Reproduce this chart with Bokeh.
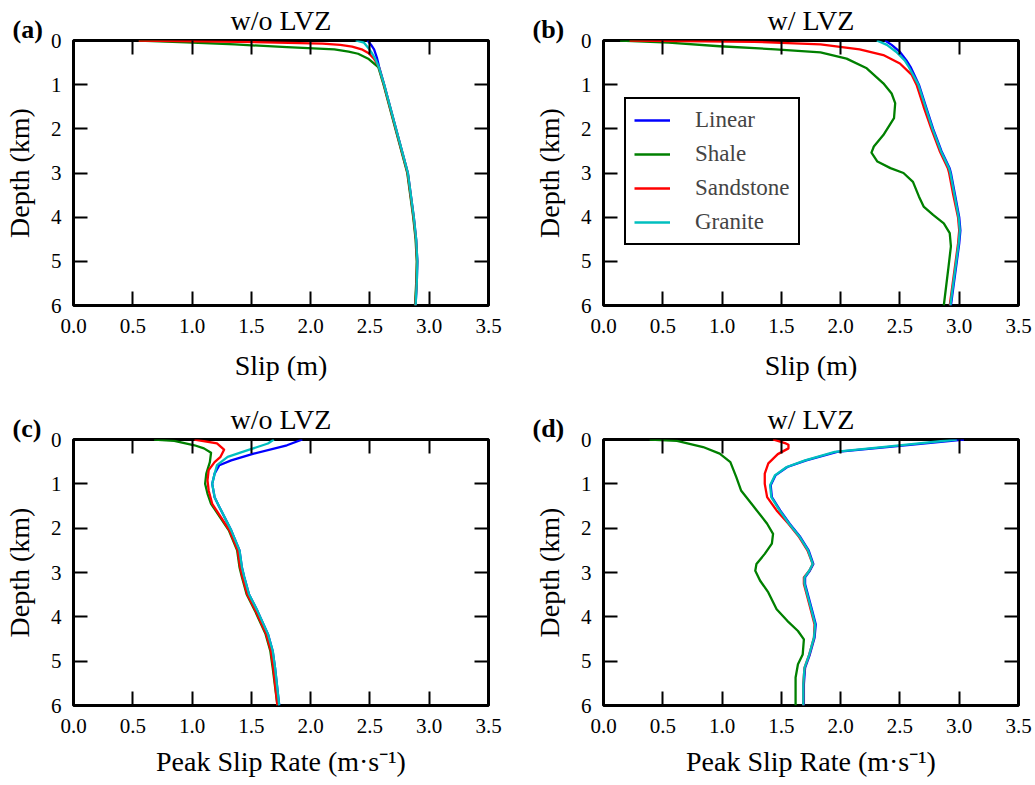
from bokeh.plotting import figure
from bokeh.layouts import gridplot
from bokeh.models import FixedTicker, PrintfTickFormatter, LinearAxis, Range1d, Title
from bokeh.embed import file_html
from bokeh.resources import INLINE

# ---------------- data ----------------
SERIES = ["Linear", "Shale", "Sandstone", "Granite"]
COLORS = ["#0000ff", "#008000", "#ff0000", "#00bfbf"]
X_TICKS = [0.0, 0.5, 1.0, 1.5, 2.0, 2.5, 3.0, 3.5]
Y_TICKS = [0, 1, 2, 3, 4, 5, 6]
TITLES = ["w/o LVZ", "w/ LVZ", "w/o LVZ", "w/ LVZ"]
TAGS = ["(a)", "(b)", "(c)", "(d)"]
XLABELS = ["Slip (m)", "Slip (m)", "Peak Slip Rate (m\u00b7s\u207b\u00b9)", "Peak Slip Rate (m\u00b7s\u207b\u00b9)"]
YLABEL = "Depth (km)"

# (a) slip, without LVZ
A_LIN_D = [0, 0.1, 0.2, 0.4, 0.6, 1.0, 2.0, 2.8, 3.0, 4.0, 4.5, 5.0, 5.5, 6.0]
A_LIN_V = [2.48, 2.51, 2.535, 2.56, 2.578, 2.62, 2.72, 2.80, 2.82, 2.87, 2.89, 2.90, 2.895, 2.885]
A_SHA_D = [0, 0.04, 0.09, 0.15, 0.2, 0.25, 0.3, 0.42, 0.6, 1.0, 2.0, 2.8, 3.0, 4.0, 4.5, 5.0, 5.5, 6.0]
A_SHA_V = [0.55, 0.95, 1.36, 1.8, 2.2, 2.32, 2.4, 2.49, 2.57, 2.615, 2.715, 2.795, 2.815, 2.865, 2.885, 2.895, 2.89, 2.88]
A_SAN_D = [0, 0.03, 0.07, 0.1, 0.14, 0.2, 0.29, 0.4, 0.48, 0.6, 1.0, 2.0, 2.8, 3.0, 4.0, 4.5, 5.0, 5.5, 6.0]
A_SAN_V = [0.55, 1.4, 2.1, 2.25, 2.35, 2.43, 2.49, 2.53, 2.55, 2.575, 2.618, 2.718, 2.798, 2.818, 2.868, 2.888, 2.898, 2.893, 2.883]
A_GRA_D = [0, 0.05, 0.18, 0.3, 0.44, 0.6, 1.0, 2.0, 2.8, 3.0, 4.0, 4.5, 5.0, 5.5, 6.0]
A_GRA_V = [2.38, 2.45, 2.49, 2.52, 2.55, 2.575, 2.62, 2.72, 2.80, 2.82, 2.87, 2.89, 2.90, 2.895, 2.885]

# (b) slip, with LVZ
B_LIN_D = [0, 0.1, 0.26, 0.45, 0.6, 1.0, 1.5, 2.0, 2.5, 2.9, 3.0, 3.5, 4.0, 4.3, 4.6, 5.0, 5.5, 6.0]
B_LIN_V = [2.375, 2.43, 2.50, 2.555, 2.59, 2.66, 2.72, 2.78, 2.85, 2.92, 2.93, 2.965, 3.0, 3.01, 3.0, 2.98, 2.955, 2.93]
B_SHA_D = [0, 0.05, 0.13, 0.2, 0.27, 0.41, 0.63, 0.97, 1.2, 1.42, 1.76, 2.14, 2.4, 2.54, 2.74, 2.89, 3.0, 3.2, 3.53, 3.76, 3.95, 4.14, 4.36, 4.66, 5.12, 6.0]
B_SHA_V = [0.14, 0.55, 0.98, 1.45, 1.83, 2.05, 2.22, 2.36, 2.43, 2.46, 2.45, 2.36, 2.28, 2.26, 2.31, 2.42, 2.53, 2.61, 2.66, 2.70, 2.78, 2.87, 2.92, 2.93, 2.91, 2.87]
B_SAN_D = [0, 0.03, 0.09, 0.2, 0.33, 0.52, 0.78, 1.0, 1.5, 2.0, 2.5, 2.9, 3.0, 3.5, 4.0, 4.3, 4.6, 5.0, 5.5, 6.0]
B_SAN_V = [0.22, 1.27, 1.83, 2.16, 2.36, 2.50, 2.60, 2.64, 2.70, 2.765, 2.835, 2.905, 2.915, 2.95, 2.99, 3.0, 2.99, 2.97, 2.945, 2.92]
B_GRA_D = [0, 0.1, 0.26, 0.45, 0.6, 1.0, 1.5, 2.0, 2.5, 2.9, 3.0, 3.5, 4.0, 4.3, 4.6, 5.0, 5.5, 6.0]
B_GRA_V = [2.305, 2.39, 2.47, 2.54, 2.575, 2.655, 2.715, 2.775, 2.845, 2.915, 2.925, 2.96, 2.995, 3.005, 2.995, 2.975, 2.95, 2.925]

# (c) peak slip rate, without LVZ
C_LIN_D = [0, 0.13, 0.32, 0.47, 0.58, 0.77, 1.0, 1.3, 1.52, 2.05, 2.5, 2.88, 3.1, 3.49, 3.86, 4.39, 4.77, 5.15, 6.0]
C_LIN_V = [1.93, 1.80, 1.52, 1.33, 1.23, 1.19, 1.17, 1.19, 1.23, 1.33, 1.40, 1.42, 1.44, 1.48, 1.55, 1.64, 1.68, 1.70, 1.735]
C_SHA_D = [0, 0.03, 0.13, 0.2, 0.3, 0.51, 0.77, 1.0, 1.22, 1.45, 2.05, 2.5, 2.88, 3.1, 3.49, 3.86, 4.39, 4.77, 5.15, 6.0]
C_SHA_V = [0.68, 0.85, 1.02, 1.10, 1.16, 1.15, 1.12, 1.11, 1.13, 1.16, 1.31, 1.38, 1.40, 1.42, 1.46, 1.53, 1.62, 1.66, 1.68, 1.72]
C_SAN_D = [0, 0.09, 0.23, 0.39, 0.51, 0.69, 0.92, 1.15, 1.45, 2.05, 2.5, 2.88, 3.1, 3.49, 3.86, 4.39, 4.77, 5.15, 6.0]
C_SAN_V = [1.02, 1.21, 1.27, 1.24, 1.19, 1.14, 1.13, 1.14, 1.17, 1.315, 1.385, 1.405, 1.425, 1.465, 1.535, 1.625, 1.665, 1.685, 1.72]
C_GRA_D = [0, 0.09, 0.24, 0.39, 0.58, 0.77, 1.0, 1.3, 1.52, 2.05, 2.5, 2.88, 3.1, 3.49, 3.86, 4.39, 4.77, 5.15, 6.0]
C_GRA_V = [1.69, 1.64, 1.47, 1.30, 1.21, 1.19, 1.17, 1.19, 1.23, 1.33, 1.40, 1.42, 1.44, 1.48, 1.55, 1.64, 1.68, 1.70, 1.735]

# (d) peak slip rate, with LVZ
D_LIN_D = [0, 0.17, 0.28, 0.47, 0.62, 0.81, 1.03, 1.3, 1.6, 1.9, 2.2, 2.5, 2.81, 2.96, 3.11, 3.26, 3.56, 3.86, 4.17, 4.47, 4.85, 5.15, 5.52, 6.0]
D_LIN_V = [3.04, 2.39, 1.97, 1.71, 1.55, 1.45, 1.41, 1.42, 1.49, 1.57, 1.66, 1.73, 1.77, 1.74, 1.70, 1.70, 1.73, 1.76, 1.79, 1.78, 1.74, 1.70, 1.69, 1.69]
D_SHA_D = [0, 0.03, 0.17, 0.32, 0.51, 0.85, 1.15, 1.49, 1.9, 2.13, 2.35, 2.58, 2.81, 2.96, 3.18, 3.45, 3.83, 4.09, 4.32, 4.51, 4.85, 5.07, 5.37, 6.0]
D_SHA_V = [0.39, 0.62, 0.84, 0.98, 1.07, 1.12, 1.16, 1.26, 1.38, 1.43, 1.42, 1.36, 1.29, 1.28, 1.32, 1.39, 1.46, 1.55, 1.64, 1.69, 1.68, 1.64, 1.62, 1.62]
D_SAN_D = [0, 0.08, 0.12, 0.2, 0.33, 0.54, 0.77, 1.0, 1.3, 1.6, 1.9, 2.2, 2.5, 2.81, 2.96, 3.11, 3.26, 3.56, 3.86, 4.17, 4.47, 4.85, 5.15, 5.52, 6.0]
D_SAN_V = [1.43, 1.53, 1.56, 1.56, 1.47, 1.39, 1.36, 1.36, 1.38, 1.46, 1.56, 1.65, 1.72, 1.765, 1.735, 1.69, 1.69, 1.72, 1.75, 1.78, 1.775, 1.735, 1.695, 1.685, 1.685]
D_GRA_D = [0, 0.17, 0.28, 0.47, 0.62, 0.81, 1.03, 1.3, 1.6, 1.9, 2.2, 2.5, 2.81, 2.96, 3.11, 3.26, 3.56, 3.86, 4.17, 4.47, 4.85, 5.15, 5.52, 6.0]
D_GRA_V = [2.98, 2.35, 1.95, 1.70, 1.545, 1.445, 1.405, 1.415, 1.485, 1.565, 1.655, 1.725, 1.765, 1.735, 1.695, 1.695, 1.725, 1.755, 1.785, 1.775, 1.735, 1.695, 1.685, 1.685]

PANELS = [
    [(A_LIN_V, A_LIN_D), (A_SHA_V, A_SHA_D), (A_SAN_V, A_SAN_D), (A_GRA_V, A_GRA_D)],
    [(B_LIN_V, B_LIN_D), (B_SHA_V, B_SHA_D), (B_SAN_V, B_SAN_D), (B_GRA_V, B_GRA_D)],
    [(C_LIN_V, C_LIN_D), (C_SHA_V, C_SHA_D), (C_SAN_V, C_SAN_D), (C_GRA_V, C_GRA_D)],
    [(D_LIN_V, D_LIN_D), (D_SHA_V, D_SHA_D), (D_SAN_V, D_SAN_D), (D_GRA_V, D_GRA_D)],
]

FONT = "Liberation Serif"

# layout: (width, height, left, right, top, bottom)
GEOM = [
    (515, 390, 73, 27, 40, 85),
    (518, 390, 88, 15, 40, 85),
    (515, 394, 73, 27, 49, 79),
    (518, 394, 88, 15, 49, 79),
]


def style_axis(ax, ticks, fmt, show_labels):
    ax.ticker = FixedTicker(ticks=ticks)
    ax.formatter = PrintfTickFormatter(format=fmt)
    ax.axis_line_color = None
    ax.major_tick_in = 14
    ax.major_tick_out = 0
    ax.major_tick_line_color = "black"
    ax.major_tick_line_width = 2
    ax.minor_tick_line_color = None
    if show_labels:
        ax.major_label_text_font = FONT
        ax.major_label_text_font_size = "21px"
        ax.major_label_text_color = "black"
    else:
        ax.major_label_text_font_size = "1px"
        ax.major_label_text_color = None
        ax.major_label_standoff = 0


figs = []
for i in range(4):
    w, h, bl, br, bt, bb = GEOM[i]
    p = figure(width=w, height=h, x_range=Range1d(0, 3.5), y_range=Range1d(6, 0),
               output_backend="svg", toolbar_location=None,
               min_border_left=bl, min_border_right=br,
               min_border_top=bt, min_border_bottom=bb)
    p.grid.visible = False
    p.outline_line_color = "black"
    p.outline_line_width = 3
    p.outline_line_alpha = 1
    p.background_fill_color = "white"
    p.border_fill_color = "white"

    p.add_layout(LinearAxis(), "above")
    p.add_layout(LinearAxis(), "right")

    for ax in p.below:
        style_axis(ax, X_TICKS, "%.1f", True)
        ax.major_label_standoff = 13
        ax.axis_label = XLABELS[i]
        ax.axis_label_standoff = 14 if i < 2 else 10
    for ax in p.above:
        style_axis(ax, X_TICKS, "%.1f", False)
    for ax in p.left:
        style_axis(ax, Y_TICKS, "%d", True)
        ax.major_label_standoff = 12
        ax.axis_label = YLABEL
        ax.axis_label_standoff = 13
    for ax in p.right:
        style_axis(ax, Y_TICKS, "%d", False)
    for ax in p.below + p.left:
        ax.axis_label_text_font = FONT
        ax.axis_label_text_font_size = "28px"
        ax.axis_label_text_font_style = "normal"
        ax.axis_label_text_color = "black"

    for k, (vals, deps) in enumerate(PANELS[i]):
        kw = dict(legend_label=SERIES[k]) if i == 1 else {}
        p.line(vals, deps, line_color=COLORS[k], line_width=2.3, line_join="round", **kw)

    # panel tag (closest to the frame), then the main title above it
    p.add_layout(Title(text=TAGS[i], align="left", offset=-61 if i % 2 == 0 else -71,
                       standoff=-6, text_font=FONT, text_font_size="26px",
                       text_font_style="bold", text_color="black"), "above")
    p.title = Title(text=TITLES[i], align="center", standoff=-40, text_font=FONT,
                    text_font_size="28px", text_font_style="normal", text_color="black")

    if i == 1:
        lg = p.legend[0]
        lg.location = (21, 60)
        lg.label_text_font = FONT
        lg.label_text_font_size = "23px"
        lg.glyph_width = 36
        lg.label_standoff = 25
        lg.padding = 8
        lg.spacing = 8
        lg.margin = 0
        lg.border_line_color = "black"
        lg.border_line_width = 2
        lg.border_line_alpha = 1
        lg.background_fill_alpha = 1
    figs.append(p)

grid = gridplot([[figs[0], figs[1]], [figs[2], figs[3]]], toolbar_location=None)

open("out.html", "w").write(file_html(grid, INLINE))
